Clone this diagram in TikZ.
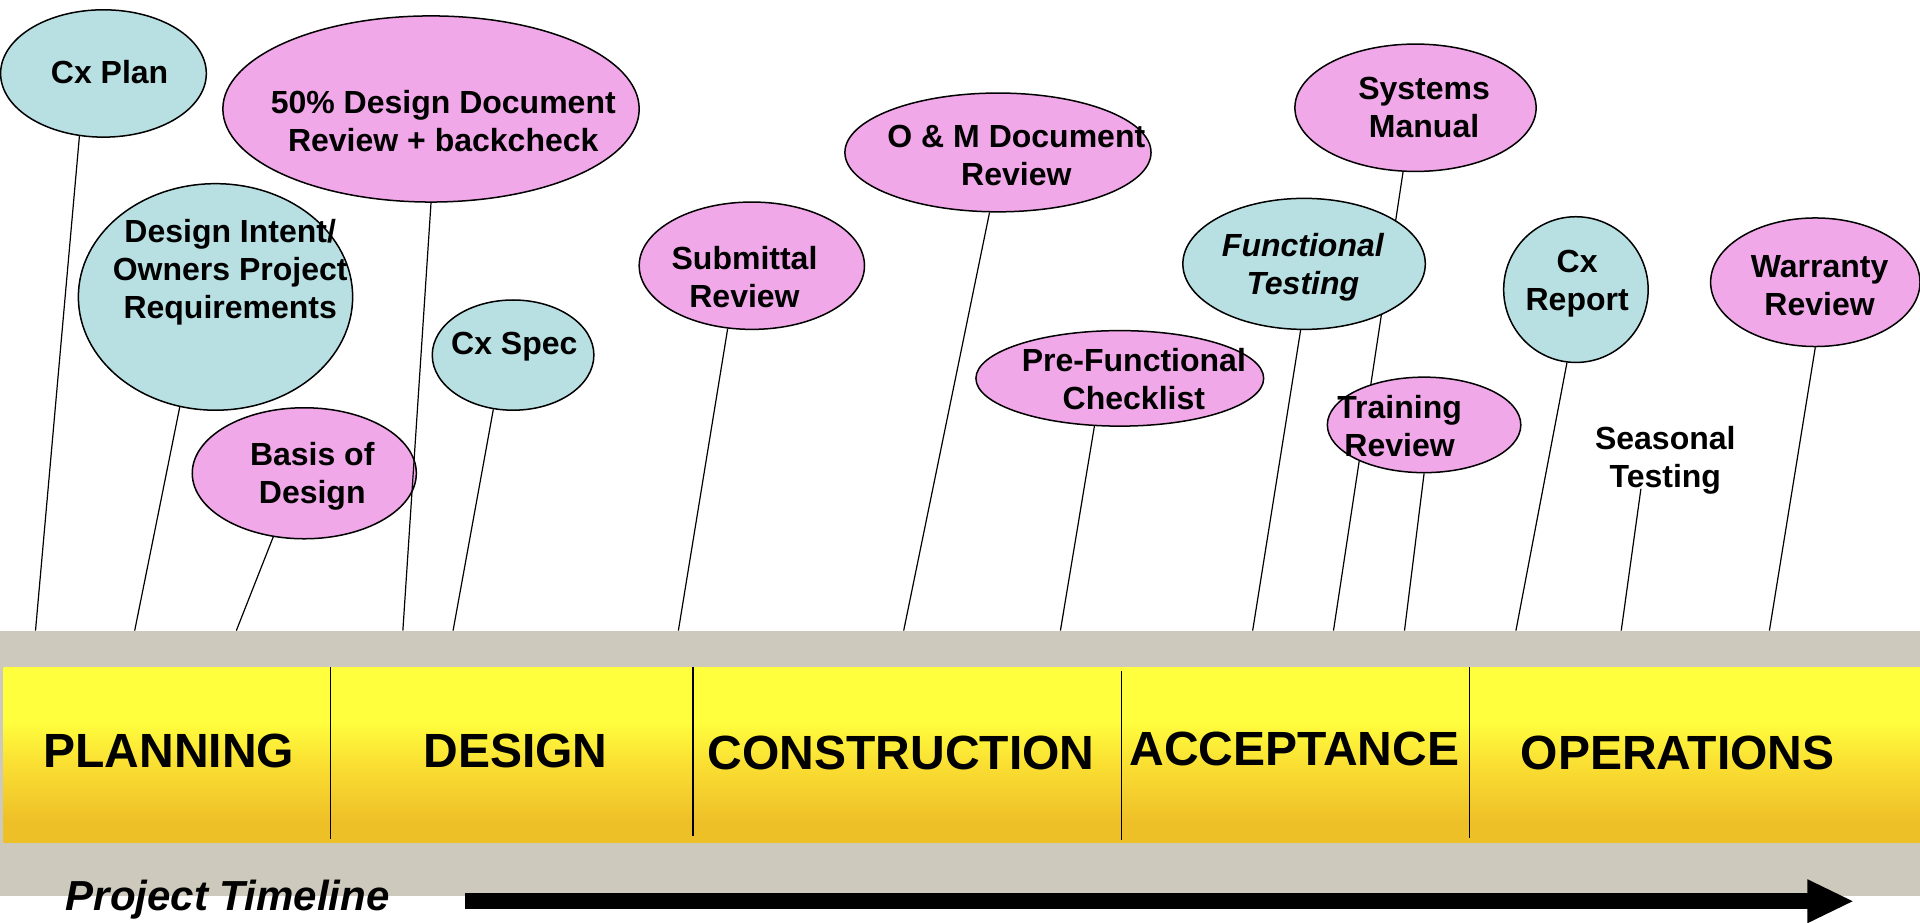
\documentclass[tikz,border=0pt]{standalone}
\usepackage{fontspec}
\setmainfont{Liberation Sans}
\usetikzlibrary{shapes.geometric}
\pgfdeclarelayer{bg}
\pgfsetlayers{bg,main}
\definecolor{cxteal}{RGB}{184,224,226}
\definecolor{cxpink}{RGB}{240,168,232}
\definecolor{bandgray}{RGB}{205,202,189}
\definecolor{bandtop}{RGB}{255,255,62}
\definecolor{bandmid}{RGB}{250,222,50}
\definecolor{bandbot}{RGB}{238,192,40}
% phase band: flat yellow on top, fading to gold at the bottom
\pgfdeclareverticalshading{phaseband}{100bp}{color(0bp)=(bandbot); color(31bp)=(bandbot); color(47bp)=(bandmid); color(60bp)=(bandtop); color(100bp)=(bandtop)}
\begin{document}
\begin{tikzpicture}[x=0.6122pt,y=-0.6122pt,
  bubble/.style={ellipse, draw=black, line width=0.75pt, inner sep=0pt},
  esize/.style 2 args={minimum width=#1*0.6122pt, minimum height=#2*0.6122pt},
  tealbubble/.style={bubble, fill=cxteal},
  pinkbubble/.style={bubble, fill=cxpink},
  btext/.style={font=\bfseries\fontsize{16}{19}\selectfont, align=center, inner sep=0pt},
  phase/.style={font=\bfseries\fontsize{24}{28}\selectfont, inner sep=0pt},
  divider/.style={line width=0.6pt},
  stem/.style={line width=0.6pt}]
\useasboundingbox (0,0) rectangle (1568,753);
\clip (0,0) rectangle (1568,753);

% timeline bands
\fill[bandgray] (0,515) rectangle (1568,732);
\shade[shading=phaseband] (3,545) rectangle (1568,688);
\draw[divider] (270,545) -- (270,685);
\draw[divider] (566,545) -- (566,683);
\draw[divider] (916,548) -- (916,686);
\draw[divider] (1200,545) -- (1200,684);

% phase names
\node[phase] (planning) at (138,613) {PLANNING};
\node[phase] (design) at (421,613) {DESIGN};
\node[phase] (construction) at (736,615) {CONSTRUCTION};
\node[phase] (acceptance) at (1057,612) {ACCEPTANCE};
\node[phase] (operations) at (1370,615) {OPERATIONS};

% project timeline arrow
\node[font=\bfseries\itshape\fontsize{21}{25}\selectfont, inner sep=0pt] (timeline) at (186,735) {Project Timeline};
\fill[black] (380,729.5) rectangle (1478,742.5);
\fill[black] (1476,718) -- (1513,736) -- (1476,754) -- cycle;

% activity bubbles
\node[tealbubble, esize={168}{104}] (cxplan) at (84.5,60) {};
\node[pinkbubble, esize={340}{152}] (fifty) at (352,89) {};
\node[tealbubble, esize={224}{185}] (intent) at (176,242.5) {};
\node[pinkbubble, esize={183}{107}] (basis) at (248.5,386.5) {};
\node[tealbubble, esize={132}{90}] (cxspec) at (419,290) {};
\node[pinkbubble, esize={184}{104}] (submittal) at (614,217) {};
\node[pinkbubble, esize={250}{97}] (omdoc) at (815,124.5) {};
\node[pinkbubble, esize={197}{104}] (systems) at (1156,88) {};
\node[tealbubble, esize={198}{107}] (functional) at (1065,215.5) {};
\node[pinkbubble, esize={235}{78}] (prefunc) at (914.5,309) {};
\node[pinkbubble, esize={158}{78}] (training) at (1163,347) {};
\node[tealbubble, esize={118}{119}] (cxreport) at (1287,236.5) {};
\node[pinkbubble, esize={171}{105}] (warranty) at (1482.5,230.5) {};

% bubble texts
\node[btext] (cxplan-t) at (89.5,58.5) {Cx Plan};
\node[btext] (fifty-t) at (362,99) {50\% Design Document\\Review + backcheck};
\node[btext] (intent-t) at (188,222) {Design Intent/\\Owners Project\\Requirements};
\node[btext] (basis-t) at (255,389) {Basis of\\Design};
\node[btext] (cxspec-t) at (420,283) {Cx Spec};
\node[btext] (submittal-t) at (608,226) {Submittal\\Review};
\node[btext] (omdoc-t) at (830,127) {O \& M Document\\Review};
\node[btext] (systems-t) at (1163,88) {Systems\\Manual};
\node[btext, font=\bfseries\itshape\fontsize{16}{19}\selectfont] (functional-t) at (1064,218) {Functional\\Testing};
\node[btext] (prefunc-t) at (926,309.5) {Pre-Functional\\Checklist};
\node[btext] (training-t) at (1143,348) {Training\\Review};
\node[btext] (cxreport-t) at (1288,232) {Cx\\Report};
\node[btext] (seasonal) at (1360,376) {Seasonal\\Testing};
\node[btext] (warranty-t) at (1486,233) {Warranty\\Review};

% points where the stems meet the band
\coordinate (s-cxplan) at (29,515);
\coordinate (s-intent) at (110,515);
\coordinate (s-basis) at (193,515);
\coordinate (s-fifty) at (329,515);
\coordinate (s-cxspec) at (370,515);
\coordinate (s-submittal) at (554,515);
\coordinate (s-omdoc) at (738,515);
\coordinate (s-prefunc) at (866,515);
\coordinate (s-functional) at (1023,515);
\coordinate (s-systems) at (1089,515);
\coordinate (s-training) at (1147,515);
\coordinate (s-cxreport) at (1238,515);
\coordinate (s-seasonal) at (1324,515);
\coordinate (s-warranty) at (1445,515);

% stems, kept behind the bubbles
\begin{pgfonlayer}{bg}
\draw[stem] (cxplan.249) -- (s-cxplan);
\draw[stem] (intent.252) -- (s-intent);
\draw[stem] (basis.244) -- (s-basis);
\draw[stem] (cxspec.250) -- (s-cxspec);
\draw[stem] (submittal.249) -- (s-submittal);
\draw[stem] (omdoc.262) -- (s-omdoc);
\draw[stem] (prefunc.242) -- (s-prefunc);
\draw[stem] (functional.267) -- (s-functional);
\draw[stem] (systems.259) -- (s-systems);
\draw[stem] (training.270) -- (s-training);
\draw[stem] (cxreport.263) -- (s-cxreport);
\draw[stem] (warranty.270) -- (s-warranty);
\end{pgfonlayer}
% this stem crosses over the edge of the Basis of Design bubble
\draw[stem] (fifty.270) -- (s-fifty);
\draw[stem] ([xshift=-12.2pt,yshift=3pt]seasonal.south) -- (s-seasonal);
\end{tikzpicture}
\end{document}
